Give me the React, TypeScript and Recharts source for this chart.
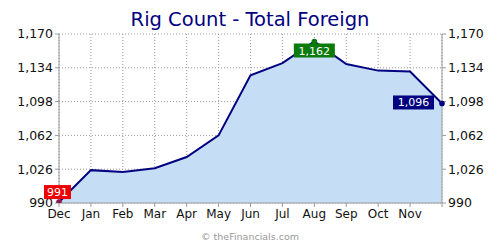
import { AreaChart, Area, XAxis, YAxis, CartesianGrid, LabelList } from 'recharts';

const months = ['Dec', 'Jan', 'Feb', 'Mar', 'Apr', 'May', 'Jun', 'Jul', 'Aug', 'Sep', 'Oct', 'Nov', ''];
const rigCount = [991, 1025, 1023, 1027, 1039, 1062, 1126, 1139, 1162, 1138, 1131, 1130, 1096];
const yTicks = [990, 1026, 1062, 1098, 1134, 1170];

const data = months.map((m, i) => ({ name: m, value: rigCount[i] }));

const fmt = (v: number) => v.toLocaleString('en-US');

const FONT = 'DejaVu Sans, Verdana, sans-serif';
const LAST = rigCount.length - 1;
const MAX_IDX = rigCount.indexOf(Math.max(...rigCount));

const markColor = (i: number) => {
  if (i === 0) return '#ee0000';
  if (i === MAX_IDX) return '#0a7a0a';
  if (i === LAST) return '#000080';
  return null;
};

const Dot = (props: any) => {
  const { cx, cy, index } = props;
  const c = markColor(index);
  if (!c) return <g key={index} />;
  const fill = index === 0 ? '#8b1a4a' : c;
  return <circle key={index} cx={cx} cy={cy} r={2.8} fill={fill} />;
};

const ValueLabel = (props: any) => {
  const { x, y, index, value } = props;
  const c = markColor(index);
  if (!c) return null;
  const text = fmt(value);
  const w = text.length * 7 + 6;
  const h = 14;
  let bx = x - w / 2;
  let by = y + 2;
  if (index === 0) {
    bx = x - 15;
    by = y - 17;
  } else if (index === LAST) {
    bx = x - w - 8;
    by = y - 8;
  }
  return (
    <g>
      <rect x={bx} y={by} width={w} height={h} fill={c} />
      <text x={bx + w / 2} y={by + 11} textAnchor="middle" fill="#fff" fontSize={11} fontFamily={FONT}>
        {text}
      </text>
    </g>
  );
};

const App = () => {
  return (
    <div style={{ position: 'absolute', left: 0, top: 0, width: 500, height: 250, background: '#fff' }}>
      <AreaChart width={500} height={250} data={data} margin={{ top: 34, right: 8, left: 8, bottom: 17 }}>
        <text x={250} y={26} textAnchor="middle" fill="#000080" fontSize={19.5} fontFamily={FONT}>
          Rig Count - Total Foreign
        </text>
        <text x={250} y={240} textAnchor="middle" fill="#999" fontSize={9.5} fontFamily={FONT}>
          © theFinancials.com
        </text>
        <CartesianGrid stroke="#9a9a9a" strokeDasharray="1 2" />
        <XAxis
          dataKey="name"
          height={30}
          stroke="#999"
          tickSize={4}
          tick={{ fill: '#111', fontSize: 12, fontFamily: FONT }}
          interval={0}
        />
        <YAxis
          orientation="left"
          width={51}
          domain={[990, 1170]}
          ticks={yTicks}
          tickFormatter={fmt}
          stroke="#999"
          tickSize={4}
          tick={{ fill: '#111', fontSize: 12.5, fontFamily: FONT }}
          allowDataOverflow
        />
        <YAxis
          yAxisId="right"
          orientation="right"
          width={50}
          domain={[990, 1170]}
          ticks={yTicks}
          tickFormatter={fmt}
          stroke="#999"
          tickSize={4}
          tick={{ fill: '#111', fontSize: 12.5, fontFamily: FONT }}
          allowDataOverflow
        />
        <Area
          type="linear"
          dataKey="value"
          stroke="#000080"
          strokeWidth={2}
          fill="#c6ddf6"
          fillOpacity={1}
          baseValue={990}
          dot={Dot}
          activeDot={false}
          isAnimationActive={false}
        >
          <LabelList dataKey="value" content={ValueLabel} />
        </Area>
      </AreaChart>
    </div>
  );
};

export default App;
